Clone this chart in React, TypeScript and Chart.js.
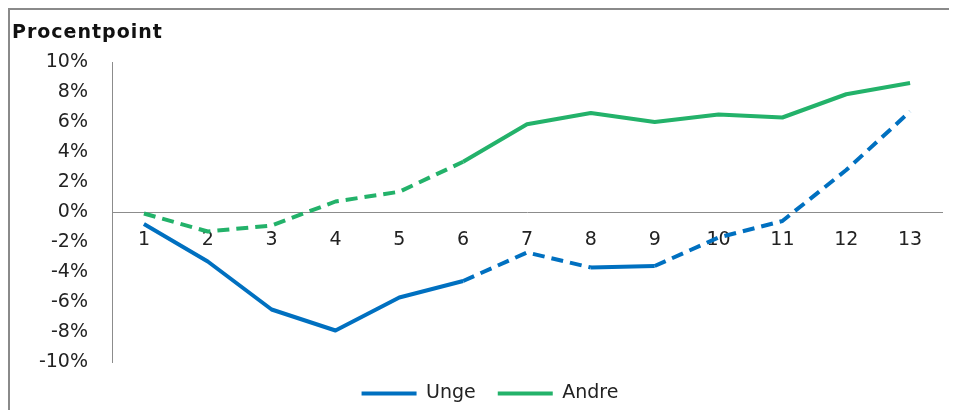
import React, { useEffect, useRef } from "react";
import { Chart, registerables } from "chart.js";

Chart.register(...registerables);

const categories = ["1", "2", "3", "4", "5", "6", "7", "8", "9", "10", "11", "12", "13"];
const ungeValues = [-0.8, -3.3, -6.5, -7.9, -5.7, -4.6, -2.7, -3.7, -3.6, -1.7, -0.6, 2.8, 6.7];
const andreValues = [-0.1, -1.3, -0.9, 0.7, 1.35, 3.35, 5.85, 6.6, 6.0, 6.5, 6.3, 7.85, 8.6];
// segment index i = line from point i to point i+1
const ungeDashedSegments = [5, 6, 8, 9, 10, 11];
const andreDashedSegments = [0, 1, 2, 3, 4];
const yMin = -10;
const yMax = 10;
const yStep = 2;
const yAxisTitle = "Procentpoint";
const seriesNames = ["Unge", "Andre"];

const BLUE = "#0070C0";
const GREEN = "#23B26A";
const FONT = "'DejaVu Sans', sans-serif";

const legendShift = {
  id: "legendShift",
  afterLayout(chart: any) {
    if (chart.legend) {
      chart.legend.left += 14;
      chart.legend.right += 14;
    }
  },
};

export default function App() {
  const ref = useRef<HTMLCanvasElement | null>(null);

  useEffect(() => {
    document.documentElement.style.overflow = "hidden";
    document.body.style.overflow = "hidden";
    if (!ref.current) return;
    const dash = (list: number[]) => (ctx: any) =>
      list.includes(ctx.p0DataIndex) ? [12, 7] : undefined;
    const chart = new Chart(ref.current, {
      type: "line",
      data: {
        labels: categories,
        datasets: [
          {
            label: seriesNames[0],
            data: ungeValues,
            borderColor: BLUE,
            backgroundColor: BLUE,
            borderWidth: 4,
            pointRadius: 0,
            tension: 0,
            borderJoinStyle: "round",
            segment: { borderDash: dash(ungeDashedSegments) },
          },
          {
            label: seriesNames[1],
            data: andreValues,
            borderColor: GREEN,
            backgroundColor: GREEN,
            borderWidth: 4,
            pointRadius: 0,
            tension: 0,
            borderJoinStyle: "round",
            segment: { borderDash: dash(andreDashedSegments) },
          },
        ],
      },
      plugins: [legendShift],
      options: {
        responsive: false,
        animation: false,
        devicePixelRatio: 1,
        layout: { padding: { top: 52, left: 0, right: 15, bottom: 5 } },
        plugins: {
          tooltip: { enabled: false },
          legend: {
            position: "bottom",
            labels: {
              usePointStyle: true,
              pointStyle: "line",
              pointStyleWidth: 55,
              padding: 22,
              color: "#222",
              font: { family: FONT, size: 19 },
            },
          },
        },
        scales: {
          x: {
            position: { y: 0 } as any,
            offset: true,
            grid: { display: false, drawTicks: false },
            border: { display: true, color: "#8c8c8c", width: 1 },
            ticks: {
              color: "#222",
              padding: 17,
              font: { family: FONT, size: 19 },
              maxRotation: 0,
              autoSkip: false,
            },
          },
          y: {
            min: yMin,
            max: yMax,
            afterFit: (s: any) => {
              s.width = 102;
            },
            grid: { display: false, drawTicks: false },
            border: { display: true, color: "#8c8c8c", width: 1 },
            ticks: {
              stepSize: yStep,
              padding: 24,
              color: "#222",
              font: { family: FONT, size: 19 },
              callback: (v: any) => `${v}%`,
            },
          },
        },
      },
    });
    return () => chart.destroy();
  }, []);

  return (
    <div
      style={{
        position: "relative",
        width: 960,
        height: 402,
        boxSizing: "border-box",
        borderTop: "2px solid #8a8a8a",
        borderLeft: "2px solid #8a8a8a",
        overflow: "hidden",
      }}
    >
      <div
        style={{
          position: "absolute",
          left: 2,
          top: 10,
          fontFamily: FONT,
          fontWeight: "bold",
          fontSize: 19,
          letterSpacing: 1,
          color: "#111",
          whiteSpace: "nowrap",
        }}
      >
        {yAxisTitle}
      </div>
      <canvas ref={ref} width={947} height={408} style={{ display: "block" }} />
    </div>
  );
}
